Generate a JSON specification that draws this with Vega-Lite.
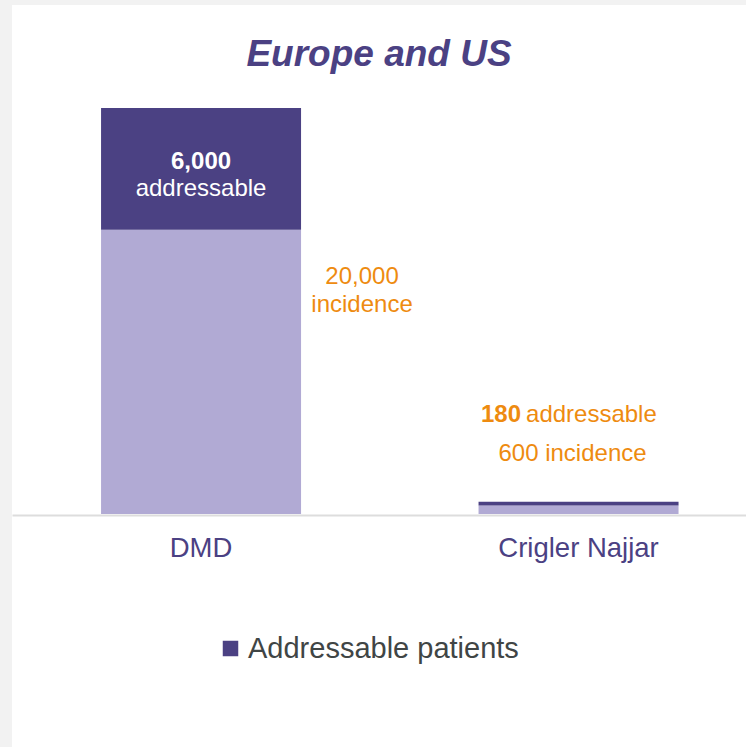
{
  "$schema": "https://vega.github.io/schema/vega-lite/v6.json",
  "width": 734,
  "height": 742,
  "autosize": {"type": "none"},
  "padding": {"left": 12, "top": 5, "right": 0, "bottom": 0},
  "background": "#F2F2F2",
  "view": {"fill": "#FFFFFF", "stroke": null},
  "config": {"font": "Liberation Sans"},
  "title": {
    "text": "Europe and US",
    "fontSize": 37,
    "fontStyle": "italic",
    "fontWeight": "bold",
    "color": "#4B4183",
    "font": "Liberation Sans",
    "anchor": "middle",
    "frame": "group",
    "baseline": "alphabetic",
    "offset": -98
  },
  "data": {
    "values": [
      {"condition": "DMD", "segment": "Non-addressable incidence", "value": 14000, "incidence": 20000, "addressable": 6000},
      {"condition": "DMD", "segment": "Addressable patients", "value": 6000, "incidence": 20000, "addressable": 6000},
      {"condition": "Crigler Najjar", "segment": "Non-addressable incidence", "value": 420, "incidence": 600, "addressable": 180},
      {"condition": "Crigler Najjar", "segment": "Addressable patients", "value": 180, "incidence": 600, "addressable": 180}
    ]
  },
  "encoding": {
    "x": {
      "field": "condition",
      "type": "nominal",
      "sort": ["DMD", "Crigler Najjar"],
      "scale": {"paddingInner": 0.4702, "paddingOuter": 0.2073, "align": 0.569},
      "axis": {
        "title": null,
        "orient": "bottom",
        "offset": -232,
        "ticks": false,
        "tickSize": 0,
        "domainColor": "#DDDDDD",
        "domainWidth": 2,
        "labelFontSize": 27.5,
        "labelColor": "#4B4183",
        "labelFont": "Liberation Sans",
        "labelBaseline": "alphabetic",
        "labelPadding": 41,
        "labelAngle": 0,
        "labelLimit": 400
      }
    }
  },
  "layer": [
    {
      "mark": {"type": "bar"},
      "encoding": {
        "y": {
          "field": "value",
          "type": "quantitative",
          "stack": "zero",
          "scale": {"domain": [-11478, 25074], "nice": false, "zero": false},
          "axis": null
        },
        "color": {
          "field": "segment",
          "type": "nominal",
          "scale": {"domain": ["Addressable patients", "Non-addressable incidence"], "range": ["#4B4183", "#B1AAD4"]},
          "legend": {
            "values": ["Addressable patients"],
            "title": null,
            "orient": "none",
            "legendX": 204,
            "legendY": 629,
            "padding": 0,
            "symbolType": "square",
            "symbolSize": 240,
            "symbolStrokeWidth": 0,
            "labelFontSize": 29,
            "labelColor": "#404545",
            "labelFont": "Liberation Sans",
            "labelOffset": 3,
            "labelLimit": 500
          }
        },
        "order": {"field": "segment", "sort": "descending"}
      }
    },
    {
      "transform": [{"filter": "datum.condition == 'DMD' && datum.segment == 'Addressable patients'"}],
      "mark": {"type": "text", "color": "#FFFFFF", "fontSize": 24, "fontWeight": "bold", "baseline": "middle", "align": "center", "dy": 54},
      "encoding": {
        "y": {"field": "incidence", "type": "quantitative", "axis": null},
        "text": {"field": "addressable", "type": "quantitative", "format": ","}
      }
    },
    {
      "transform": [{"filter": "datum.condition == 'DMD' && datum.segment == 'Addressable patients'"}],
      "mark": {"type": "text", "color": "#FFFFFF", "fontSize": 24, "baseline": "middle", "align": "center", "dy": 81, "text": "addressable"},
      "encoding": {
        "y": {"field": "incidence", "type": "quantitative", "axis": null}
      }
    },
    {
      "transform": [{"filter": "datum.condition == 'DMD' && datum.segment == 'Addressable patients'"}],
      "mark": {"type": "text", "color": "#EE8B10", "fontSize": 24, "baseline": "middle", "align": "center", "dx": 61, "dy": 169},
      "encoding": {
        "x": {"field": "condition", "type": "nominal", "sort": ["DMD", "Crigler Najjar"], "bandPosition": 1},
        "y": {"field": "incidence", "type": "quantitative", "axis": null},
        "text": {"field": "incidence", "type": "quantitative", "format": ","}
      }
    },
    {
      "transform": [{"filter": "datum.condition == 'DMD' && datum.segment == 'Addressable patients'"}],
      "mark": {"type": "text", "color": "#EE8B10", "fontSize": 24, "baseline": "middle", "align": "center", "dx": 61, "dy": 197, "text": "incidence"},
      "encoding": {
        "x": {"field": "condition", "type": "nominal", "sort": ["DMD", "Crigler Najjar"], "bandPosition": 1},
        "y": {"field": "incidence", "type": "quantitative", "axis": null}
      }
    },
    {
      "transform": [{"filter": "datum.condition == 'Crigler Najjar' && datum.segment == 'Addressable patients'"}],
      "mark": {"type": "text", "color": "#EE8B10", "fontSize": 24, "fontWeight": "bold", "baseline": "middle", "align": "right", "dx": -57.5, "dy": -87},
      "encoding": {
        "y": {"field": "incidence", "type": "quantitative", "axis": null},
        "text": {"field": "addressable", "type": "quantitative", "format": ","}
      }
    },
    {
      "transform": [{"filter": "datum.condition == 'Crigler Najjar' && datum.segment == 'Addressable patients'"}],
      "mark": {"type": "text", "color": "#EE8B10", "fontSize": 24, "baseline": "middle", "align": "left", "dx": -52.5, "dy": -87, "text": "addressable"},
      "encoding": {
        "y": {"field": "incidence", "type": "quantitative", "axis": null}
      }
    },
    {
      "transform": [
        {"filter": "datum.condition == 'Crigler Najjar' && datum.segment == 'Addressable patients'"},
        {"calculate": "format(datum.incidence, ',') + ' incidence'", "as": "incidenceLabel"}
      ],
      "mark": {"type": "text", "color": "#EE8B10", "fontSize": 24, "baseline": "middle", "align": "center", "dx": -6, "dy": -48},
      "encoding": {
        "y": {"field": "incidence", "type": "quantitative", "axis": null},
        "text": {"field": "incidenceLabel", "type": "nominal"}
      }
    }
  ]
}
